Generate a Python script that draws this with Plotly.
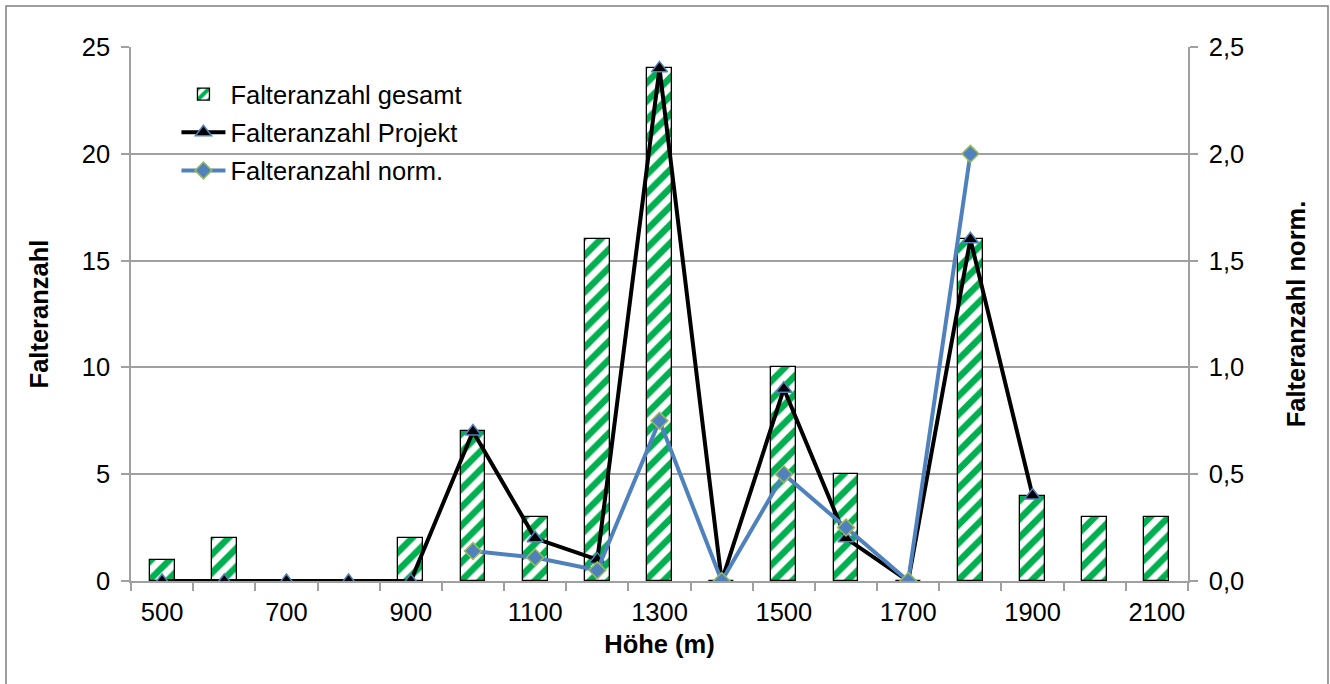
import plotly.graph_objects as go

# Höhenstufen (m)
hoehe = [500, 600, 700, 800, 900, 1000, 1100, 1200, 1300, 1400,
         1500, 1600, 1700, 1800, 1900, 2000, 2100]
gesamt = [1, 2, 0, 0, 2, 7, 3, 16, 24, 0, 10, 5, 0, 16, 4, 3, 3]

hoehe_projekt = [500, 600, 700, 800, 900, 1000, 1100, 1200, 1300, 1400,
                 1500, 1600, 1700, 1800, 1900]
projekt = [0, 0, 0, 0, 0, 7, 2, 1, 24, 0, 9, 2, 0, 16, 4]

hoehe_norm = [1000, 1100, 1200, 1300, 1400, 1500, 1600, 1700, 1800]
norm = [0.14, 0.11, 0.05, 0.75, 0.0, 0.5, 0.25, 0.0, 2.0]

x_labels = [500, 700, 900, 1100, 1300, 1500, 1700, 1900, 2100]

FONT = "Liberation Sans, Arial, sans-serif"
FS = 25.5
GRID = "#a0a0a0"
BLUE = "#4f81bd"

fig = go.Figure()

fig.add_trace(go.Bar(
    x=hoehe, y=gesamt, name="Falteranzahl gesamt", width=40,
    marker=dict(color="white",
                line=dict(color="black", width=1.3),
                pattern=dict(shape="/", fgcolor="#00b050", bgcolor="white",
                             fgopacity=1, fillmode="replace",
                             size=13, solidity=0.5)),
    legendgroup="a",
))

fig.add_trace(go.Scatter(
    x=hoehe_projekt, y=projekt, name="Falteranzahl Projekt", mode="lines+markers",
    line=dict(color="black", width=4),
    marker=dict(symbol="triangle-up", size=14, color="black",
                line=dict(color=BLUE, width=1.5)),
    legendgroup="b",
))

fig.add_trace(go.Scatter(
    x=hoehe_norm, y=norm, name="Falteranzahl norm.", mode="lines+markers",
    yaxis="y2",
    line=dict(color=BLUE, width=4),
    marker=dict(symbol="diamond", size=13, color=BLUE,
                line=dict(color="#9bbb59", width=1.5)),
    legendgroup="c",
))

# Rahmen um das gesamte Diagramm
L, R, T, B = 131, 142, 47, 103
W, H = 1330, 684
pw, ph = W - L - R, H - T - B
fig.add_shape(type="rect", xref="paper", yref="paper",
              x0=(6 - L) / pw, x1=(1328 - L) / pw,
              y0=(H - B - 700) / ph, y1=(H - B - 6) / ph,
              line=dict(color="#7f7f7f", width=1.5), layer="below")

fig.update_layout(
    width=W, height=H,
    margin=dict(l=L, r=R, t=T, b=B),
    paper_bgcolor="white", plot_bgcolor="white",
    separators=",.",
    font=dict(family=FONT, size=FS, color="black"),
    bargap=0,
    legend=dict(x=0.043, y=0.955, xanchor="left", yanchor="top",
                bgcolor="rgba(0,0,0,0)", traceorder="grouped",
                tracegroupgap=2, font=dict(size=FS), itemwidth=44),
    xaxis=dict(
        range=[450, 2150], tickmode="array", tickvals=x_labels,
        ticks="", showgrid=False, zeroline=False,
        showline=True, linecolor=GRID, linewidth=1.5,
        tickfont=dict(size=FS), ticklabelstandoff=8,
        minor=dict(tick0=450, dtick=100, ticks="outside", ticklen=8,
                   tickcolor=GRID, tickwidth=1.5, showgrid=False),
        title=dict(text="<b>Höhe (m)</b>", font=dict(size=FS), standoff=10),
    ),
    yaxis=dict(
        range=[0, 25], dtick=5, ticks="outside", ticklen=8,
        tickcolor=GRID, tickwidth=1.5,
        showgrid=True, gridcolor=GRID, gridwidth=1.5, zeroline=False,
        showline=True, linecolor=GRID, linewidth=1.5,
        tickfont=dict(size=FS), ticklabelstandoff=6,
        title=dict(text="<b>Falteranzahl</b>", font=dict(size=FS), standoff=26),
    ),
    yaxis2=dict(
        range=[0, 2.5], dtick=0.5, tickformat=".1f", overlaying="y", side="right",
        ticks="outside", ticklen=8, tickcolor=GRID, tickwidth=1.5,
        showgrid=False, zeroline=False,
        showline=True, linecolor=GRID, linewidth=1.5,
        tickfont=dict(size=FS), ticklabelstandoff=6,
        title=dict(text="<b>Falteranzahl norm.</b>", font=dict(size=FS), standoff=44),
    ),
)

fig.write_html("out.html")
